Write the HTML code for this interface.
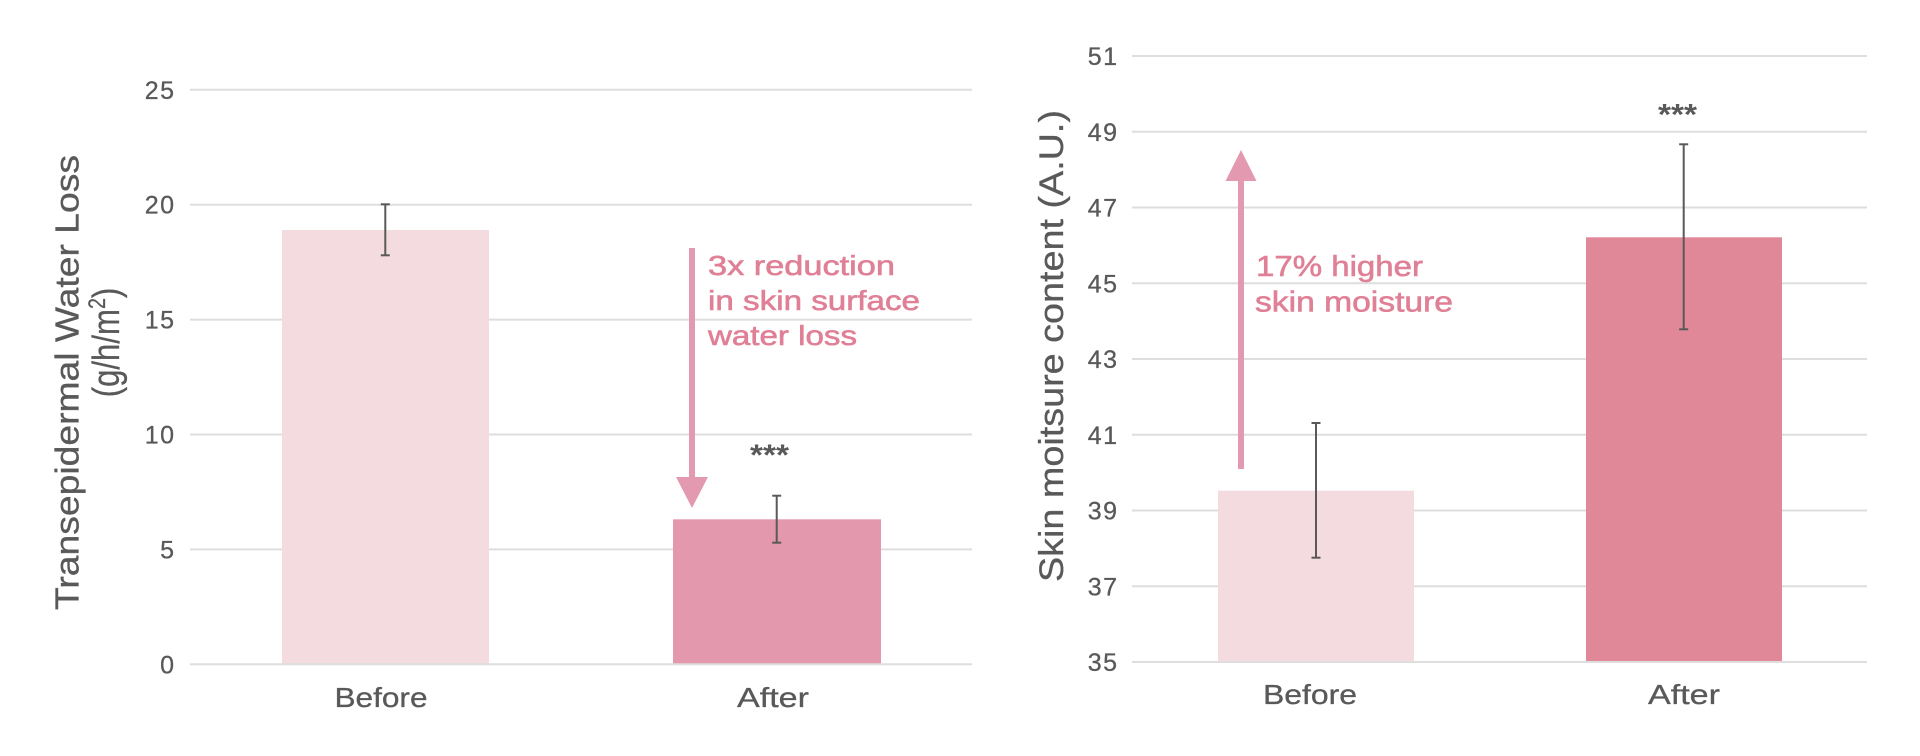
<!DOCTYPE html>
<html>
<head>
<meta charset="utf-8">
<style>
html,body{margin:0;padding:0;background:#fff;}
svg{display:block;}
text{font-family:"Liberation Sans",sans-serif;}
</style>
</head>
<body>
<svg width="1920" height="756" viewBox="0 0 1920 756" xmlns="http://www.w3.org/2000/svg">
<rect width="1920" height="756" fill="#fff"/>

<!-- ===== LEFT CHART ===== -->
<g stroke="#dedede" stroke-width="2">
  <line x1="190" y1="89.8" x2="972" y2="89.8"/>
  <line x1="190" y1="204.7" x2="972" y2="204.7"/>
  <line x1="190" y1="319.6" x2="972" y2="319.6"/>
  <line x1="190" y1="434.5" x2="972" y2="434.5"/>
  <line x1="190" y1="549.4" x2="972" y2="549.4"/>
</g>
<g font-size="25" fill="#595959" stroke="#595959" stroke-width="0.3" text-anchor="end" letter-spacing="1.5">
  <text x="175.5" y="98.8">25</text>
  <text x="175.5" y="213.7">20</text>
  <text x="175.5" y="328.6">15</text>
  <text x="175.5" y="443.5">10</text>
  <text x="175.5" y="558.4">5</text>
  <text x="175.5" y="673.3">0</text>
</g>
<!-- bars -->
<rect x="282" y="230" width="207" height="434.3" fill="#f4dbe0"/>
<rect x="673" y="519.3" width="208" height="145" fill="#e398ae"/>
<line x1="190" y1="664.3" x2="972" y2="664.3" stroke="#dedede" stroke-width="2"/>
<!-- error bars -->
<g stroke="#595959" stroke-width="2">
  <line x1="385.3" y1="204.3" x2="385.3" y2="255.3"/>
  <line x1="380.8" y1="204.3" x2="389.8" y2="204.3"/>
  <line x1="380.8" y1="255.3" x2="389.8" y2="255.3"/>
  <line x1="776.7" y1="495.7" x2="776.7" y2="542.7"/>
  <line x1="772.2" y1="495.7" x2="781.2" y2="495.7"/>
  <line x1="772.2" y1="542.7" x2="781.2" y2="542.7"/>
</g>
<text x="750" y="465" font-size="30" font-weight="bold" fill="#595959" textLength="39" lengthAdjust="spacingAndGlyphs">***</text>
<!-- arrow down -->
<rect x="689" y="248" width="6" height="232" fill="#e39ab0"/>
<polygon points="676,477 708,477 692,508" fill="#e39ab0"/>
<g font-size="28" fill="#e08096" stroke="#e08096" stroke-width="0.6">
  <text x="708" y="275" textLength="187" lengthAdjust="spacingAndGlyphs">3x reduction</text>
  <text x="708" y="310" textLength="212" lengthAdjust="spacingAndGlyphs">in skin surface</text>
  <text x="708" y="345" textLength="149" lengthAdjust="spacingAndGlyphs">water loss</text>
</g>
<!-- x labels -->
<g font-size="28" fill="#595959" stroke="#595959" stroke-width="0.3" text-anchor="middle">
  <text x="381" y="707" textLength="93" lengthAdjust="spacingAndGlyphs">Before</text>
  <text x="773" y="707" textLength="72" lengthAdjust="spacingAndGlyphs">After</text>
</g>
<!-- y title -->
<text transform="translate(78.3,382.5) rotate(-90)" font-size="33" fill="#595959" stroke="#595959" stroke-width="0.3" text-anchor="middle" textLength="455" lengthAdjust="spacingAndGlyphs">Transepidermal Water Loss</text>
<g transform="translate(119,342.5) rotate(-90) scale(0.82,1)">
  <text x="0" y="0" font-size="38" fill="#595959" stroke="#595959" stroke-width="0.3" text-anchor="middle">(g/h/m<tspan font-size="24" dy="-14">2</tspan><tspan dy="14">)</tspan></text>
</g>

<!-- ===== RIGHT CHART ===== -->
<g stroke="#dedede" stroke-width="2">
  <line x1="1132" y1="56" x2="1867" y2="56"/>
  <line x1="1132" y1="131.75" x2="1867" y2="131.75"/>
  <line x1="1132" y1="207.5" x2="1867" y2="207.5"/>
  <line x1="1132" y1="283.25" x2="1867" y2="283.25"/>
  <line x1="1132" y1="359" x2="1867" y2="359"/>
  <line x1="1132" y1="434.75" x2="1867" y2="434.75"/>
  <line x1="1132" y1="510.5" x2="1867" y2="510.5"/>
  <line x1="1132" y1="586.25" x2="1867" y2="586.25"/>
</g>
<g font-size="25" fill="#595959" stroke="#595959" stroke-width="0.3" text-anchor="end" letter-spacing="1.5">
  <text x="1118.5" y="65">51</text>
  <text x="1118.5" y="140.75">49</text>
  <text x="1118.5" y="216.5">47</text>
  <text x="1118.5" y="292.25">45</text>
  <text x="1118.5" y="368">43</text>
  <text x="1118.5" y="443.75">41</text>
  <text x="1118.5" y="519.5">39</text>
  <text x="1118.5" y="595.25">37</text>
  <text x="1118.5" y="671">35</text>
</g>
<rect x="1218" y="490.7" width="196" height="171.3" fill="#f4dbe0"/>
<rect x="1586" y="237.3" width="196" height="424.7" fill="#e08898"/>
<line x1="1132" y1="662" x2="1867" y2="662" stroke="#dedede" stroke-width="2"/>
<g stroke="#595959" stroke-width="2">
  <line x1="1316" y1="423" x2="1316" y2="557.7"/>
  <line x1="1311.5" y1="423" x2="1320.5" y2="423"/>
  <line x1="1311.5" y1="557.7" x2="1320.5" y2="557.7"/>
  <line x1="1683.7" y1="144.3" x2="1683.7" y2="329.3"/>
  <line x1="1679.2" y1="144.3" x2="1688.2" y2="144.3"/>
  <line x1="1679.2" y1="329.3" x2="1688.2" y2="329.3"/>
</g>
<text x="1658" y="124.5" font-size="30" font-weight="bold" fill="#595959" textLength="39" lengthAdjust="spacingAndGlyphs">***</text>
<!-- arrow up -->
<rect x="1238" y="178" width="6" height="291" fill="#e39ab0"/>
<polygon points="1225.5,181 1256.5,181 1241,150" fill="#e39ab0"/>
<g font-size="29" fill="#e08096" stroke="#e08096" stroke-width="0.6">
  <text x="1256" y="276" textLength="167" lengthAdjust="spacingAndGlyphs">17% higher</text>
  <text x="1255" y="311.5" textLength="198" lengthAdjust="spacingAndGlyphs">skin moisture</text>
</g>
<g font-size="28" fill="#595959" stroke="#595959" stroke-width="0.3" text-anchor="middle">
  <text x="1310" y="704" textLength="94" lengthAdjust="spacingAndGlyphs">Before</text>
  <text x="1684" y="704" textLength="72" lengthAdjust="spacingAndGlyphs">After</text>
</g>
<text transform="translate(1063,346) rotate(-90)" font-size="34" fill="#595959" stroke="#595959" stroke-width="0.3" text-anchor="middle" textLength="472" lengthAdjust="spacingAndGlyphs">Skin moitsure content (A.U.)</text>
</svg>
</body>
</html>
